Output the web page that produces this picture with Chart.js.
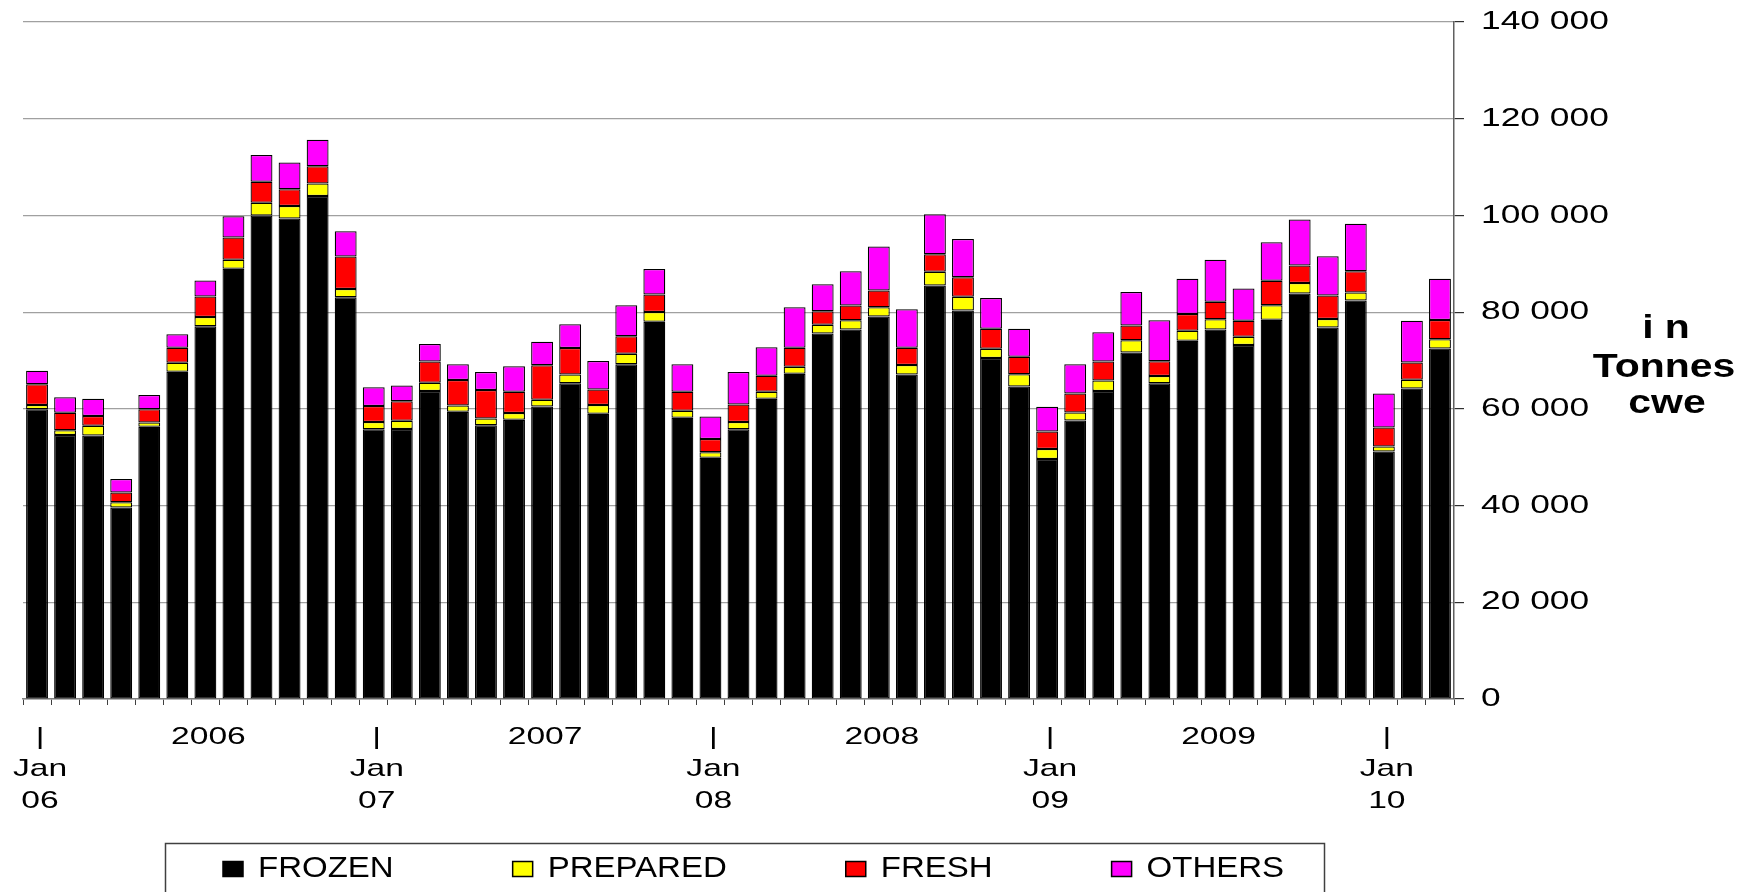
<!DOCTYPE html>
<html>
<head>
<meta charset="utf-8">
<script src="https://cdn.jsdelivr.net/npm/chart.js@4.4.0/dist/chart.umd.min.js"></script>
<style>
  html, body { margin: 0; padding: 0; background: #fff; }
  #wrap { width: 1745px; height: 892px; position: relative; }
</style>
</head>
<body>
<div id="wrap"><canvas id="c" width="1745" height="892"></canvas></div>
<script>
// ---------------- DATA ----------------
const categories = [
  'Jan 06','Feb 06','Mar 06','Apr 06','May 06','Jun 06','Jul 06','Aug 06','Sep 06','Oct 06','Nov 06','Dec 06',
  'Jan 07','Feb 07','Mar 07','Apr 07','May 07','Jun 07','Jul 07','Aug 07','Sep 07','Oct 07','Nov 07','Dec 07',
  'Jan 08','Feb 08','Mar 08','Apr 08','May 08','Jun 08','Jul 08','Aug 08','Sep 08','Oct 08','Nov 08','Dec 08',
  'Jan 09','Feb 09','Mar 09','Apr 09','May 09','Jun 09','Jul 09','Aug 09','Sep 09','Oct 09','Nov 09','Dec 09',
  'Jan 10','Feb 10','Mar 10'
];
const frozen = [
  59900, 54600, 54500, 39600, 56300, 67650, 77100, 88950, 100000, 99350, 104000, 83100,
  55800, 55850, 63700, 59400, 56600, 57750, 60500, 65300, 59000, 69200, 78000, 58150,
  49900, 55800, 62100, 67250, 75600, 76400, 79100, 67100, 85500, 80350, 70500, 64600,
  49650, 57600, 63700, 71650, 65300, 74100, 76400, 73200, 78450, 83850, 76800, 82400,
  51200, 64200, 72500
];
const prepared = [
  900, 1000, 2000, 1100, 900, 1900, 1900, 1900, 2600, 2600, 2600, 1700,
  1500, 1700, 1700, 1300, 1400, 1400, 1400, 1800, 1800, 2200, 2050, 1450,
  1150, 1500, 1450, 1450, 1800, 1900, 1900, 1950, 2850, 2850, 1950, 2550,
  2050, 1650, 2150, 2550, 1500, 2050, 2150, 1700, 2950, 2200, 1800, 1650,
  1000, 1800, 1900
];
const fresh = [
  4300, 3600, 2000, 2000, 2700, 3100, 4250, 4600, 4350, 3450, 3550, 6700,
  3300, 4000, 4400, 5250, 5900, 4400, 7100, 5500, 3200, 3600, 3600, 3950,
  2700, 3600, 3300, 3950, 2800, 3050, 3450, 3600, 3600, 4000, 4100, 3600,
  3600, 3950, 3950, 3050, 3050, 3450, 3600, 3300, 5100, 3600, 4850, 4400,
  3950, 3600, 4000
];
const others = [
  2800, 3200, 3600, 2800, 2950, 2800, 3300, 4400, 5550, 5550, 5500, 5250,
  3850, 3300, 3600, 3250, 3700, 5250, 4900, 4900, 5900, 6400, 5250, 5650,
  4650, 6700, 5900, 8350, 5550, 7100, 9150, 7950, 8300, 7950, 6400, 5800,
  5150, 6000, 6050, 6900, 8450, 7300, 8700, 6700, 7950, 9500, 8100, 9850,
  7050, 8600, 8500
];
const seriesNames = ['FROZEN', 'PREPARED', 'FRESH', 'OTHERS'];
const seriesColors = ['#000000', '#FFFF00', '#FF0000', '#FF00FF'];
const yTickLabels = ['0', '20 000', '40 000', '60 000', '80 000', '100 000', '120 000', '140 000'];
const januaryTicks = ['Jan 06', 'Jan 07', 'Jan 08', 'Jan 09', 'Jan 10'];
const januaryYears = ['06', '07', '08', '09', '10'];
const yearTicks = ['Jul 06', 'Jul 07', 'Jul 08', 'Jul 09'];
const yearLabels = ['2006', '2007', '2008', '2009'];
const unitTitle = ['i n', 'Tonnes', 'cwe'];

// ---------------- STYLE / LAYOUT ----------------
const FONT = "'Liberation Sans', Arial, sans-serif";
const Y_TICK_LEN = 10;
const Y_LABEL_SHIFT = 17;   // gap between tick mark end and label
const Y_STRETCH = 1.36;
const X_STRETCH = 1.4;
const X_SHIFT = 3;
const TITLE_STRETCH = 1.24;
const LEGEND_STRETCH = 1.1;

Chart.defaults.color = '#000';
Chart.defaults.font.family = FONT;

// draw each label of a scale horizontally stretched around its own anchor point
function patchStretch(scale, sx, dx) {
  if (scale.__patched) return;
  const orig = scale.drawLabels;
  scale.drawLabels = function (area) {
    const ctx = this.ctx;
    const proto = Object.getPrototypeOf(ctx).fillText;
    ctx.fillText = function (t, x, y) {
      this.save();
      this.translate(x + dx, y);
      this.scale(sx, 1);
      proto.call(this, t, 0, 0);
      this.restore();
    };
    try { orig.call(this, area); } finally { delete ctx.fillText; }
  };
  scale.__patched = true;
}

const stretchLabels = {
  id: 'stretchLabels',
  afterLayout(chart) {
    patchStretch(chart.scales.y, Y_STRETCH, Y_LABEL_SHIFT);
    patchStretch(chart.scales.x, X_STRETCH, X_SHIFT);
  }
};

function stretchedText(ctx, text, x, y, sx) {
  ctx.save();
  ctx.translate(x, y);
  ctx.scale(sx, 1);
  ctx.fillText(text, 0, 0);
  ctx.restore();
}

const unitTitlePlugin = {
  id: 'unitTitle',
  afterDraw(chart) {
    const ctx = chart.ctx;
    const xs = [1666, 1664, 1667];
    const ys = [329, 368, 404];
    ctx.save();
    ctx.fillStyle = '#000';
    ctx.font = 'bold 33px ' + FONT;
    ctx.textAlign = 'center';
    ctx.textBaseline = 'middle';
    unitTitle.forEach((t, i) => stretchedText(ctx, t, xs[i], ys[i], TITLE_STRETCH));
    ctx.restore();
  }
};

const legendPlugin = {
  id: 'customLegend',
  afterDraw(chart) {
    const ctx = chart.ctx;
    ctx.save();
    ctx.strokeStyle = '#404040';
    ctx.lineWidth = 1.5;
    ctx.strokeRect(165.5, 843.5, 1159, 80);
    ctx.font = '30px ' + FONT;
    ctx.textBaseline = 'middle';
    ctx.textAlign = 'left';
    let x = 223;
    const cy = 869;
    const gap = 119;
    seriesNames.forEach((name, i) => {
      ctx.fillStyle = seriesColors[i];
      ctx.fillRect(x, cy - 7.5, 20, 15);
      ctx.strokeStyle = '#000';
      ctx.lineWidth = 1.5;
      ctx.strokeRect(x, cy - 7.5, 20, 15);
      ctx.fillStyle = '#000';
      stretchedText(ctx, name, x + 35, cy, LEGEND_STRETCH);
      x += 35 + ctx.measureText(name).width * LEGEND_STRETCH + gap;
    });
    ctx.restore();
  }
};

const seriesData = [frozen, prepared, fresh, others];

new Chart(document.getElementById('c'), {
  type: 'bar',
  data: {
    labels: categories,
    datasets: seriesNames.map((name, i) => ({
      label: name,
      data: seriesData[i],
      backgroundColor: seriesColors[i],
      borderColor: '#000',
      borderWidth: 1.25,
      borderSkipped: false,
      barPercentage: 0.78,
      categoryPercentage: 1.0
    }))
  },
  options: {
    responsive: false,
    animation: false,
    devicePixelRatio: 1,
    layout: { padding: { left: 23, top: 22, right: 0, bottom: 0 } },
    plugins: {
      legend: { display: false },
      tooltip: { enabled: false }
    },
    scales: {
      x: {
        stacked: true,
        offset: true,
        grid: {
          offset: true,
          drawOnChartArea: false,
          drawTicks: true,
          tickLength: 6,
          color: '#808080',
          tickColor: '#404040',
          lineWidth: 1
        },
        border: { display: true, color: '#808080', width: 1.5 },
        ticks: {
          autoSkip: false,
          maxRotation: 0,
          minRotation: 0,
          padding: 16,
          font: { size: 24, family: FONT, lineHeight: 1.3333 },
          color: '#000',
          callback: function (value, index) {
            const cat = categories[index];
            const j = januaryTicks.indexOf(cat);
            if (j >= 0) return ['|', 'Jan', januaryYears[j]];
            const y = yearTicks.indexOf(cat);
            if (y >= 0) return [yearLabels[y]];
            return '';
          }
        },
        afterFit(scale) { scale.height = 193; }
      },
      y: {
        stacked: true,
        position: 'right',
        min: 0,
        max: 140000,
        grid: {
          drawOnChartArea: true,
          drawTicks: true,
          tickLength: Y_TICK_LEN,
          color: '#a0a0a0',
          tickColor: '#303030',
          lineWidth: 1.2
        },
        border: { display: true, color: '#606060', width: 1.5 },
        ticks: {
          stepSize: 20000,
          padding: 0,
          font: { size: 26, family: FONT, lineHeight: 1.0 },
          color: '#000',
          callback: function (value, index) { return yTickLabels[index]; }
        },
        afterFit(scale) { scale.width = 291; }
      }
    }
  },
  plugins: [stretchLabels, unitTitlePlugin, legendPlugin]
});
</script>
</body>
</html>
